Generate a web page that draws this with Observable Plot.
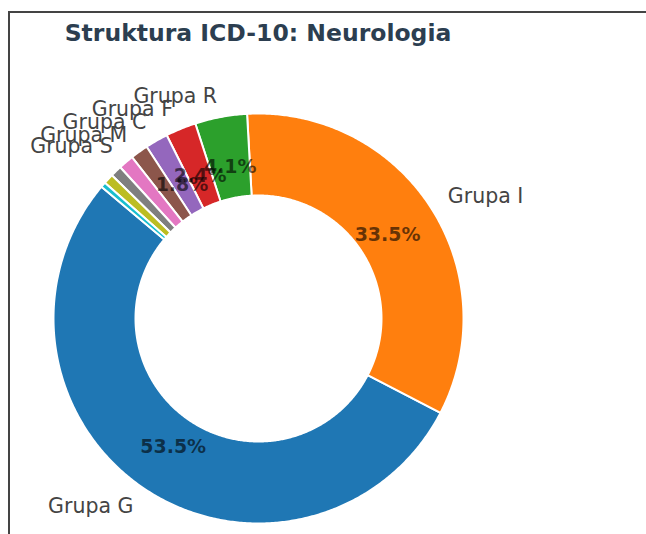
<!DOCTYPE html>
<html><head><meta charset="utf-8">
<script src="https://cdn.jsdelivr.net/npm/d3@7"></script>
<script src="https://cdn.jsdelivr.net/npm/@observablehq/plot@0.6"></script>
<style>
html,body{margin:0;padding:0;background:#fff;}
body{width:646px;height:534px;position:relative;overflow:hidden;font-family:"DejaVu Sans",sans-serif;}
#frame{position:absolute;left:8px;top:11px;width:650px;height:540px;border-left:2px solid #444;border-top:2px solid #444;}
#title{position:absolute;left:0;top:19px;width:516px;text-align:center;font-weight:bold;font-size:23.5px;line-height:28px;color:#2c3e50;}
#chart{position:absolute;left:10px;top:56px;}
</style></head><body>
<div id="frame"></div>
<div id="title">Struktura ICD-10: Neurologia</div>
<div id="chart"></div>
<script>
// Data (percent shares, matplotlib pie order, counterclockwise from 140°)
const groups = ["Grupa G", "Grupa I", "Grupa R", "Grupa F", "Grupa C", "Grupa M", "Grupa S", "Grupa H", "Grupa E", "Grupa Z"];
const shares = [53.5, 33.5, 4.1, 2.4, 1.8, 1.4, 1.2, 0.9, 0.8, 0.4];
const palette = ["#1f77b4", "#ff7f0e", "#2ca02c", "#d62728", "#9467bd", "#8c564b", "#e377c2", "#7f7f7f", "#bcbd22", "#17becf"];

// Layout constants
const W = 636, H = 478, RPX = 205, CX = 248, CY = 262;
const START = 140, INNER = 0.6, LABEL_D = 1.1, PCT_D = 0.75;

const total = d3.sum(shares);
const rad = d => d * Math.PI / 180;
let acc = 0;
const slices = groups.map((name, i) => {
  const a0 = START + 360 * acc / total;
  acc += shares[i];
  const a1 = START + 360 * acc / total;
  return {name, value: shares[i], pct: 100 * shares[i] / total, a0, a1, mid: (a0 + a1) / 2};
});

// Wedge polygons derived from the data
const points = [];
for (const s of slices) {
  const n = Math.max(2, Math.ceil((s.a1 - s.a0) / 0.5));
  for (let k = 0; k <= n; k++) {
    const a = rad(s.a0 + (s.a1 - s.a0) * k / n);
    points.push({name: s.name, x: Math.cos(a), y: Math.sin(a)});
  }
  for (let k = n; k >= 0; k--) {
    const a = rad(s.a0 + (s.a1 - s.a0) * k / n);
    points.push({name: s.name, x: INNER * Math.cos(a), y: INNER * Math.sin(a)});
  }
}

const labels = slices.filter(s => s.pct >= 1).map(s => ({
  text: s.name, x: LABEL_D * Math.cos(rad(s.mid)), y: LABEL_D * Math.sin(rad(s.mid))
}));
const pcts = slices.filter(s => s.pct >= 1.5).map(s => ({
  text: d3.format(".1f")(s.pct) + "%", x: PCT_D * Math.cos(rad(s.mid)), y: PCT_D * Math.sin(rad(s.mid))
}));

const chart = Plot.plot({
  width: W, height: H,
  margin: 0,
  style: {background: "transparent", fontFamily: "DejaVu Sans"},
  x: {domain: [-CX / RPX, (W - CX) / RPX], axis: null},
  y: {domain: [-(H - CY) / RPX, CY / RPX], axis: null},
  color: {domain: groups, range: palette},
  marks: [
    Plot.line(points, {x: "x", y: "y", z: "name", fill: "name", stroke: "white", strokeWidth: 2, curve: "linear-closed"}),
    Plot.text(labels.filter(d => d.x < 0), {x: "x", y: "y", text: "text", textAnchor: "end", fontSize: 20.5, fill: "#444", fontFamily: "DejaVu Sans"}),
    Plot.text(labels.filter(d => d.x >= 0), {x: "x", y: "y", text: "text", textAnchor: "start", fontSize: 20.5, fill: "#444", fontFamily: "DejaVu Sans"}),
    Plot.text(pcts, {x: "x", y: "y", text: "text", textAnchor: "middle", fontSize: 19, fontWeight: "bold", fill: "black", fillOpacity: 0.6, fontFamily: "DejaVu Sans"})
  ]
});
document.getElementById("chart").appendChild(chart);
</script>
</body></html>
